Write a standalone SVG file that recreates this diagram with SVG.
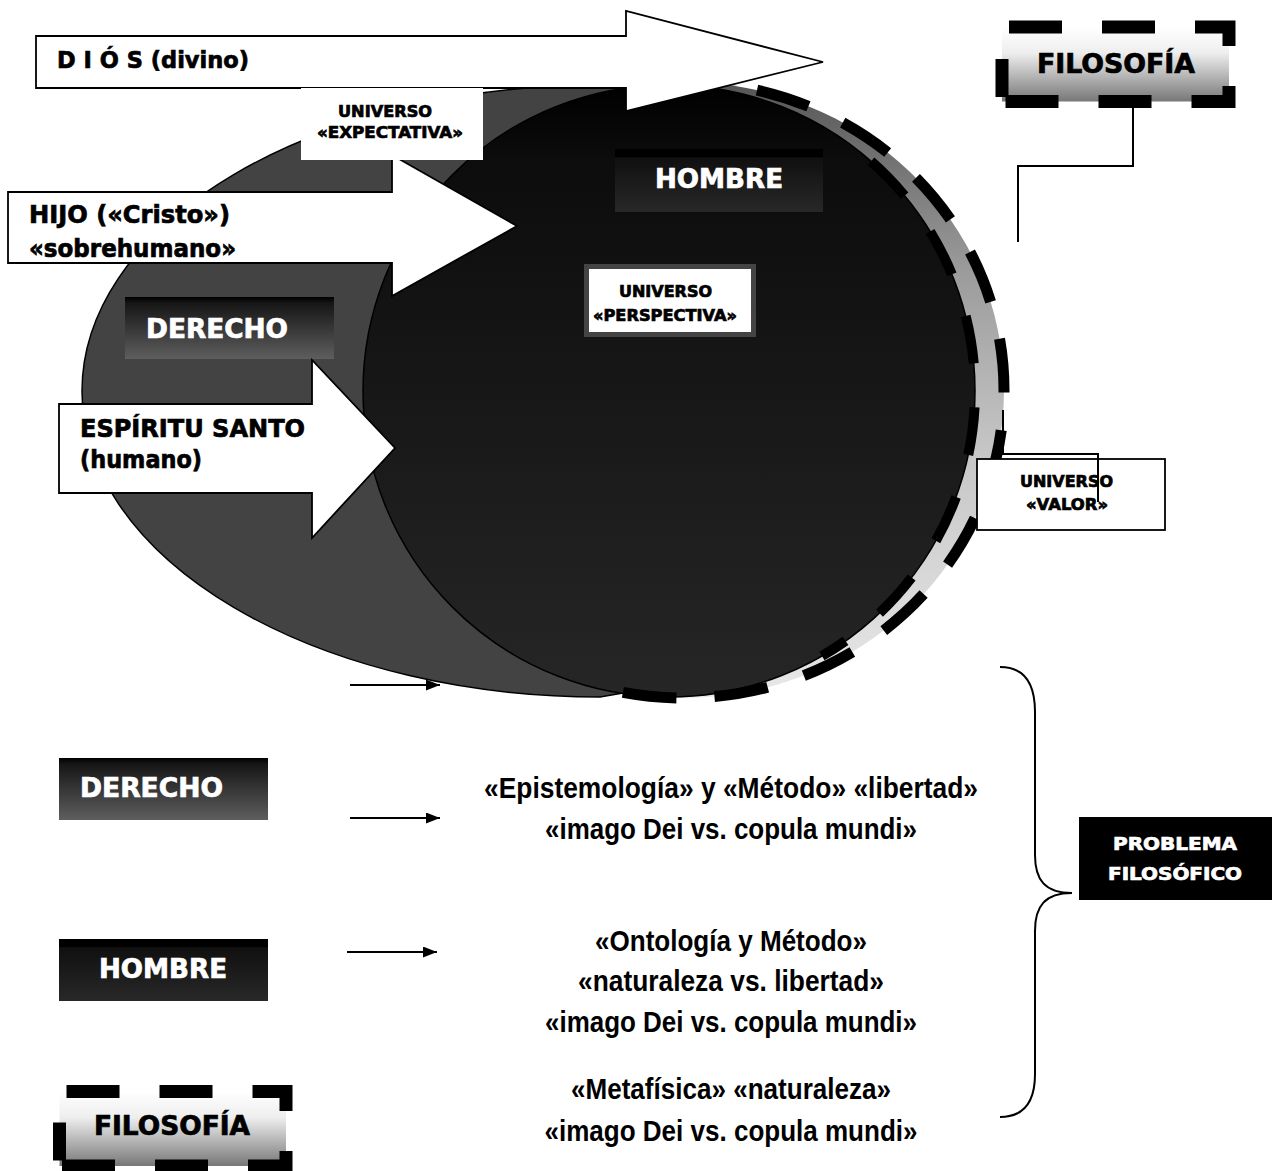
<svg xmlns="http://www.w3.org/2000/svg" width="1278" height="1171" viewBox="0 0 1278 1171">
<style>
.lbl{font-family:"DejaVu Sans","Liberation Sans",Arial,sans-serif;font-weight:bold;fill:#000;stroke:#000;stroke-width:0.7}
.wt{fill:#fff;stroke:#fff}
.bt{font-family:"Liberation Sans",Arial,sans-serif;font-weight:bold;font-size:30px;text-anchor:middle;fill:#000}
.arrow{fill:#fff;stroke:#000;stroke-width:1.8;stroke-linejoin:miter}
.filo{stroke:#000;stroke-width:13;fill:url(#filoGrad);stroke-dasharray:53 40 53 40 53 40 53 40 53 40 53 8 38 39;stroke-dashoffset:596}
.conn{fill:none;stroke:#000;stroke-width:2}
</style>
<defs>
<linearGradient id="filoGrad" x1="0" y1="0" x2="0" y2="1">
<stop offset="0" stop-color="#ffffff"/><stop offset="0.35" stop-color="#eeeeee"/><stop offset="1" stop-color="#777777"/>
</linearGradient>
<linearGradient id="ringGrad" x1="0" y1="0" x2="0" y2="1">
<stop offset="0" stop-color="#555"/><stop offset="0.3" stop-color="#9a9a9a"/><stop offset="0.6" stop-color="#c6c6c6"/><stop offset="1" stop-color="#e8e8e8"/>
</linearGradient>
<linearGradient id="blackGrad" x1="0" y1="0" x2="0" y2="1">
<stop offset="0" stop-color="#000"/><stop offset="0.12" stop-color="#0c0c0c"/><stop offset="0.5" stop-color="#171717"/><stop offset="1" stop-color="#262626"/>
</linearGradient>
<linearGradient id="derGrad" x1="0" y1="0" x2="0" y2="1">
<stop offset="0" stop-color="#000"/><stop offset="0.1" stop-color="#161616"/><stop offset="1" stop-color="#5e5e5e"/>
</linearGradient>
<linearGradient id="homGrad" x1="0" y1="0" x2="0" y2="1">
<stop offset="0" stop-color="#000"/><stop offset="0.12" stop-color="#000"/><stop offset="0.14" stop-color="#101010"/><stop offset="1" stop-color="#282828"/>
</linearGradient>
<marker id="ah" viewBox="0 0 14 11" refX="14" refY="5.5" markerWidth="14" markerHeight="11" markerUnits="userSpaceOnUse" orient="auto">
<path d="M0,0 L14,5.5 L0,11 z" fill="#000"/>
</marker>
</defs>
<rect width="1278" height="1171" fill="#fff"/>

<g id="derecho-ellipse">
<path d="M600,85 A518,306 0 0 0 82,391 A518,306 0 0 0 600,697 L640,690 L700,391 L640,95 Z" fill="#434343" stroke="#000" stroke-width="1.5"/>
</g>

<g id="filosofia-ellipse">
<ellipse cx="684" cy="390" rx="320" ry="308" fill="url(#ringGrad)"/>
</g>

<g id="hombre-circle">
<circle cx="669" cy="391" r="306" fill="url(#blackGrad)" stroke="#000" stroke-width="1.5"/>
<path d="M822,656 A306,306 0 0 0 865.7,156.6" fill="none" stroke="#000" stroke-width="10" stroke-dasharray="48 44" stroke-dashoffset="20"/>
<path d="M622.9,692.3 A320,308 0 0 0 1004,390 A320,308 0 0 0 756,89.9" fill="none" stroke="#000" stroke-width="11" stroke-dasharray="54 38"/>
</g>

<g id="derecho-inner">
<rect x="125" y="297" width="209" height="62" fill="url(#derGrad)"/>
<text class="lbl wt" x="146" y="338" font-size="26" textLength="142" lengthAdjust="spacingAndGlyphs">DERECHO</text>
</g>

<g id="hombre-inner">
<rect x="615" y="149" width="208" height="63" fill="url(#homGrad)"/>
<text class="lbl wt" x="655" y="188" font-size="26" textLength="128" lengthAdjust="spacingAndGlyphs">HOMBRE</text>
</g>

<g id="universo-perspectiva">
<rect x="586.5" y="266.5" width="167" height="68" fill="#fff" stroke="#444" stroke-width="5"/>
<text class="lbl" x="619" y="297" font-size="15.5" textLength="93" lengthAdjust="spacingAndGlyphs">UNIVERSO</text>
<text class="lbl" x="593" y="321" font-size="15.5" textLength="144" lengthAdjust="spacingAndGlyphs">«PERSPECTIVA»</text>
</g>

<g id="dios-arrow">
<polygon class="arrow" points="36,36 626,36 626,11 823,62 626,111 626,88 36,88"/>
<text class="lbl" x="57" y="68" font-size="23" textLength="192" lengthAdjust="spacingAndGlyphs">D I Ó S (divino)</text>
</g>

<g id="hijo-arrow">
<polygon class="arrow" points="8,192 392,192 392,155 517,226 392,296 392,263 8,263"/>
<text class="lbl" x="29" y="223" font-size="24" textLength="201" lengthAdjust="spacingAndGlyphs">HIJO («Cristo»)</text>
<text class="lbl" x="29" y="257" font-size="24" textLength="207" lengthAdjust="spacingAndGlyphs">«sobrehumano»</text>
</g>

<g id="universo-expectativa">
<rect x="301" y="88" width="182" height="72" fill="#fff"/>
<text class="lbl" x="338" y="117" font-size="15.5" textLength="94" lengthAdjust="spacingAndGlyphs">UNIVERSO</text>
<text class="lbl" x="317" y="138" font-size="15.5" textLength="146" lengthAdjust="spacingAndGlyphs">«EXPECTATIVA»</text>
</g>

<g id="espiritu-arrow">
<polygon class="arrow" points="59,404 312,404 312,360 395,448 312,538 312,493 59,493"/>
<text class="lbl" x="80" y="437" font-size="24" textLength="225" lengthAdjust="spacingAndGlyphs">ESPÍRITU SANTO</text>
<text class="lbl" x="80" y="468" font-size="24" textLength="122" lengthAdjust="spacingAndGlyphs">(humano)</text>
</g>

<g id="universo-valor">
<rect x="977" y="459" width="188" height="71" fill="#fff" stroke="#000" stroke-width="1.8"/>
<text class="lbl" x="1020" y="487" font-size="15.5" textLength="93" lengthAdjust="spacingAndGlyphs">UNIVERSO</text>
<text class="lbl" x="1026" y="510" font-size="15.5" textLength="82" lengthAdjust="spacingAndGlyphs">«VALOR»</text>
</g>

<g id="filosofia-top">
<rect class="filo" x="1002" y="27" width="227" height="74.5"/>
<text class="lbl" x="1037" y="73" font-size="26" textLength="158" lengthAdjust="spacingAndGlyphs">FILOSOFÍA</text>
</g>

<g id="derecho-bottom">
<rect x="59" y="758" width="209" height="62" fill="url(#derGrad)"/>
<text class="lbl wt" x="80" y="797" font-size="26" textLength="143" lengthAdjust="spacingAndGlyphs">DERECHO</text>
</g>

<g id="hombre-bottom">
<rect x="59" y="939" width="209" height="62" fill="url(#homGrad)"/>
<text class="lbl wt" x="99" y="978" font-size="26" textLength="128" lengthAdjust="spacingAndGlyphs">HOMBRE</text>
</g>

<g id="filosofia-bottom">
<rect class="filo" x="59.5" y="1091.5" width="226.5" height="74.5"/>
<text class="lbl" x="94" y="1135" font-size="26" textLength="156" lengthAdjust="spacingAndGlyphs">FILOSOFÍA</text>
</g>

<g id="text-epistemologia">
<text class="bt" x="731" y="798" textLength="494" lengthAdjust="spacingAndGlyphs">«Epistemología» y «Método» «libertad»</text>
<text class="bt" x="731" y="839" textLength="372" lengthAdjust="spacingAndGlyphs">«imago Dei vs. copula mundi»</text>
</g>

<g id="text-ontologia">
<text class="bt" x="731" y="951" textLength="272" lengthAdjust="spacingAndGlyphs">«Ontología y Método»</text>
<text class="bt" x="731" y="991" textLength="306" lengthAdjust="spacingAndGlyphs">«naturaleza vs. libertad»</text>
<text class="bt" x="731" y="1032" textLength="372" lengthAdjust="spacingAndGlyphs">«imago Dei vs. copula mundi»</text>
</g>

<g id="text-metafisica">
<text class="bt" x="731" y="1099" textLength="320" lengthAdjust="spacingAndGlyphs">«Metafísica» «naturaleza»</text>
<text class="bt" x="731" y="1141" textLength="373" lengthAdjust="spacingAndGlyphs">«imago Dei vs. copula mundi»</text>
</g>

<g id="problema-filosofico">
<rect x="1079" y="817" width="193" height="83" fill="#000"/>
<text class="lbl wt" x="1175" y="850" font-size="17" text-anchor="middle" textLength="124" lengthAdjust="spacingAndGlyphs">PROBLEMA</text>
<text class="lbl wt" x="1175" y="880" font-size="17" text-anchor="middle" textLength="134" lengthAdjust="spacingAndGlyphs">FILOSÓFICO</text>
</g>

<g id="connectors">
<path class="conn" d="M1133,108 V166 H1018 V242"/>
<path class="conn" d="M1003,410 V454 H1098 V502"/>
<path class="conn" d="M350,685 H440" marker-end="url(#ah)"/>
<path class="conn" d="M350,818 H440" marker-end="url(#ah)"/>
<path class="conn" d="M347,952 H437" marker-end="url(#ah)"/>
<path class="conn" d="M1000,667 C1025,667 1035,685 1035,712 L1035,855 C1035,880 1045,893 1072,893 C1045,893 1035,906 1035,931 L1035,1074 C1035,1100 1025,1117 1000,1117"/>
</g>
</svg>
